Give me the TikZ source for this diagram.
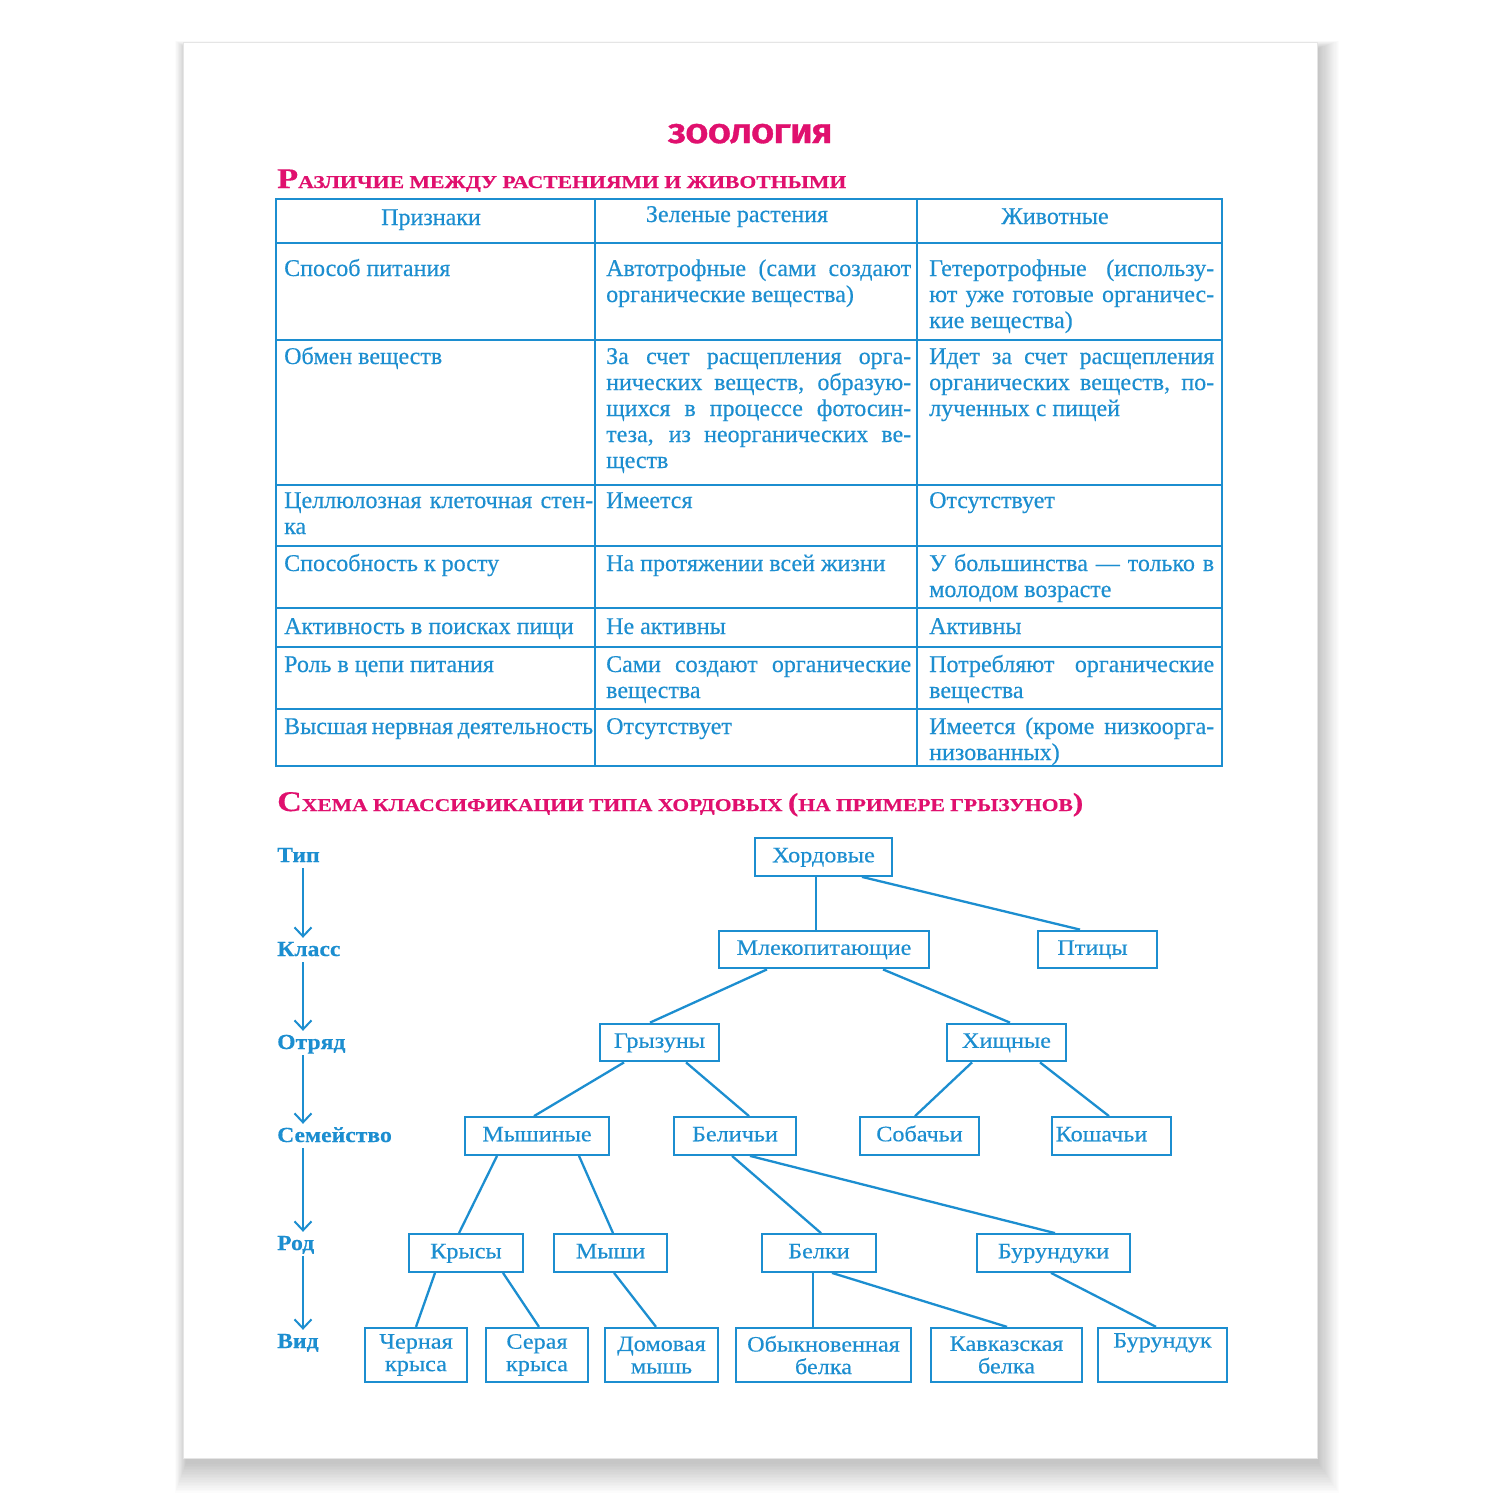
\documentclass[tikz,border=0pt]{standalone}
\usepackage{fontspec}
\usepackage{graphicx}
\setmainfont{Liberation Serif}
\newfontfamily\titlefont{Fira Sans}
\newfontfamily\widefont{Liberation Serif}[FakeStretch=1.1]
\usetikzlibrary{arrows.meta,calc}
\definecolor{bl}{RGB}{28,142,208}
\definecolor{mg}{RGB}{224,16,110}
\newcommand\tabfont{\fontsize{24}{26}\selectfont\addfontfeature{FakeBold=0.35}}
\newcommand\treefont{\widefont\fontsize{22}{23}\selectfont\addfontfeature{FakeBold=0.35}}
\newcommand\spfont{\widefont\fontsize{22}{22.5}\selectfont\addfontfeature{FakeBold=0.35}}
\newcommand\lvfont{\widefont\bfseries\fontsize{21.5}{23}\selectfont\addfontfeature{FakeBold=0.5}}
\newcommand\jA[1]{\makebox[309pt][s]{#1}}
\newcommand\jB[1]{\makebox[305pt][s]{#1}}
\newcommand\jC[1]{\makebox[285pt][s]{#1}}
\newcommand\pbx[1]{\parbox[t]{320pt}{#1}}
\begin{document}
\begin{tikzpicture}[x=1pt,y=-1pt,
  tline/.style={draw=bl,line width=2.4pt},
  cell/.style={anchor=base west,inner sep=0pt,text=bl,font=\tabfont},
  hcell/.style={anchor=base,inner sep=0pt,text=bl,font=\tabfont},
  tn/.style={draw=bl,line width=2.3pt,text=bl,font=\treefont,inner sep=0pt,
     text height=15pt,text depth=4.5pt,minimum height=37.5pt},
  sp/.style={draw=bl,line width=2.3pt,text=bl,font=\spfont,inner sep=0pt,
     align=center,minimum height=54pt},
  conn/.style={draw=bl,line width=2.3pt},
  lv/.style={anchor=base west,inner sep=0pt,text=bl,font=\lvfont,text height=15pt,text depth=5pt},
  lvarrow/.style={draw=bl,line width=2pt,-{Straight Barb[length=9pt,width=17pt,line width=2pt]},
     shorten <=1pt,shorten >=3pt}]
\useasboundingbox (0,0) rectangle (1500,1500);
\fill[white] (0,0) rectangle (1500,1500);
% shadow
\foreach \i in {0,...,18}{
  \fill[black,opacity=0.011] (183+3-\i*0.6,42+6-\i*0.4) rectangle (1317+2+\i*1.1,1458+6+\i*1.6);
}
\fill[white] (183,42) rectangle (1317,1458);
\draw[black!10,line width=0.8pt] (183,42) rectangle (1317,1458);

% titles
\node[anchor=base,inner sep=0pt,text=mg] (title) at (750,143)
  {\resizebox{164pt}{\height}{\titlefont\bfseries\fontsize{27}{27}\selectfont\addfontfeature{FakeBold=1.2}ЗООЛОГИЯ}};
\node[anchor=base west,inner sep=0pt,text=mg] (sub1) at (277,188)
  {\resizebox{569pt}{\height}{\bfseries\addfontfeature{FakeBold=0.4}\fontsize{28.5}{28}\selectfont Р\fontsize{18}{18}\selectfont АЗЛИЧИЕ МЕЖДУ РАСТЕНИЯМИ И ЖИВОТНЫМИ}};
\node[anchor=base west,inner sep=0pt,text=mg] (sub2) at (277,811)
  {\resizebox{806pt}{\height}{\bfseries\addfontfeature{FakeBold=0.4}\fontsize{28.5}{28}\selectfont С\fontsize{18}{18}\selectfont ХЕМА КЛАССИФИКАЦИИ ТИПА ХОРДОВЫХ \fontsize{26}{26}\selectfont(\fontsize{18}{18}\selectfont НА ПРИМЕРЕ ГРЫЗУНОВ\fontsize{26}{26}\selectfont)}};

% table grid
\draw[tline] (276,199) rectangle (1222,766);
\foreach \yy in {243,340,485,546,608,647,709}{\draw[tline] (276,\yy) -- (1222,\yy);}
\draw[tline] (595,199) -- (595,766);
\draw[tline] (917,199) -- (917,766);

% header
\node[hcell] (h1) at (431,225) {Признаки};
\node[hcell] (h2) at (737,222) {Зеленые растения};
\node[hcell] (h3) at (1055,224) {Животные};
% row 1
\node[cell] (r1a) at (284,276) {\pbx{Способ питания}};
\node[cell] (r1b) at (606,276) {\pbx{\jB{Автотрофные (сами создают}\\органические вещества)}};
\node[cell] (r1c) at (929,276) {\pbx{\jC{Гетеротрофные (использу-}\\\jC{ют уже готовые органичес-}\\кие вещества)}};
% row 2
\node[cell] (r2a) at (284,364) {\pbx{Обмен веществ}};
\node[cell] (r2b) at (606,364) {\pbx{\jB{За счет расщепления орга-}\\\jB{нических веществ, образую-}\\\jB{щихся в процессе фотосин-}\\\jB{теза, из неорганических ве-}\\ществ}};
\node[cell] (r2c) at (929,364) {\pbx{\jC{Идет за счет расщепления}\\\jC{органических веществ, по-}\\лученных с пищей}};
% row 3
\node[cell] (r3a) at (284,508) {\pbx{\jA{Целлюлозная клеточная стен-}\\ка}};
\node[cell] (r3b) at (606,508) {\pbx{Имеется}};
\node[cell] (r3c) at (929,508) {\pbx{Отсутствует}};
% row 4
\node[cell] (r4a) at (284,571) {\pbx{Способность к росту}};
\node[cell] (r4b) at (606,571) {\pbx{На протяжении всей жизни}};
\node[cell] (r4c) at (929,571) {\pbx{\jC{У большинства — только в}\\молодом возрасте}};
% row 5
\node[cell] (r5a) at (284,634) {\pbx{Активность в поисках пищи}};
\node[cell] (r5b) at (606,634) {\pbx{Не активны}};
\node[cell] (r5c) at (929,634) {\pbx{Активны}};
% row 6
\node[cell] (r6a) at (284,672) {\pbx{Роль в цепи питания}};
\node[cell] (r6b) at (606,672) {\pbx{\jB{Сами создают органические}\\вещества}};
\node[cell] (r6c) at (929,672) {\pbx{\jC{Потребляют органические}\\вещества}};
% row 7
\node[cell] (r7a) at (284,734) {\pbx{\jA{Высшая нервная деятельность}}};
\node[cell] (r7b) at (606,734) {\pbx{Отсутствует}};
\node[cell] (r7c) at (929,734) {\pbx{\jC{Имеется (кроме низкоорга-}\\низованных)}};

% level labels
\coordinate (ax) at (303,0);
\node[lv] (l1) at (277,862) {Тип};
\node[lv] (l2) at (277,956) {Класс};
\node[lv] (l3) at (277,1049) {Отряд};
\node[lv] (l4) at (277,1142) {Семейство};
\node[lv] (l5) at (277,1250) {Род};
\node[lv] (l6) at (277,1348) {Вид};
\draw[lvarrow] (l1.south -| ax) -- (l2.north -| ax);
\draw[lvarrow] (l2.south -| ax) -- (l3.north -| ax);
\draw[lvarrow] (l3.south -| ax) -- (l4.north -| ax);
\draw[lvarrow] (l4.south -| ax) -- (l5.north -| ax);
\draw[lvarrow] (l5.south -| ax) -- (l6.north -| ax);

% tree nodes
\node[tn,minimum width=137pt] (hord) at (823.5,857) {Хордовые};
\node[tn,minimum width=210pt] (mlek) at (824,949.5) {Млекопитающие};
\node[tn,minimum width=119pt] (ptic) at (1097.5,949.5) {Птицы\hspace*{10pt}};
\node[tn,minimum width=119pt] (gryz) at (659.5,1042.5) {Грызуны};
\node[tn,minimum width=119pt] (hish) at (1006.5,1042.5) {Хищные};
\node[tn,minimum width=144pt] (mysh) at (537,1136) {Мышиные};
\node[tn,minimum width=122pt] (bel) at (735,1136) {Беличьи};
\node[tn,minimum width=119pt] (sob) at (919.5,1136) {Собачьи};
\node[tn,minimum width=119pt] (kosh) at (1111.5,1136) {Кошачьи\hspace*{20pt}};
\node[tn,minimum width=114pt] (krys) at (466,1253) {Крысы};
\node[tn,minimum width=113pt] (myshi) at (610.5,1253) {Мыши};
\node[tn,minimum width=114pt] (belk) at (819,1253) {Белки};
\node[tn,minimum width=153pt] (burs) at (1053.5,1253) {Бурундуки};
\node[sp,minimum width=102pt] (cher) at (416,1355) {Черная\\крыса};
\node[sp,minimum width=102pt] (ser) at (537,1355) {Серая\\крыса};
\node[sp,minimum width=113pt] (dom) at (661.5,1355) {Домовая\\мышь};
\node[sp,minimum width=175pt] (obyk) at (823.5,1355) {Обыкновенная\\белка};
\node[sp,minimum width=151pt] (kavk) at (1006.5,1355) {Кавказская\\белка};
\node[sp,minimum width=129pt] (burk) at (1162.5,1355) {Бурундук\\\strut};

% connectors
\draw[conn] ([xshift=-7.5pt]hord.south) -- ([xshift=-8pt]mlek.north);
\draw[conn] ([xshift=38.5pt]hord.south) -- ([xshift=-17.5pt]ptic.north);
\draw[conn] ([xshift=-57pt]mlek.south) -- ([xshift=-9.5pt]gryz.north);
\draw[conn] ([xshift=59pt]mlek.south) -- ([xshift=3.5pt]hish.north);
\draw[conn] ([xshift=-35.5pt]gryz.south) -- ([xshift=-3pt]mysh.north);
\draw[conn] ([xshift=26.5pt]gryz.south) -- ([xshift=14pt]bel.north);
\draw[conn] ([xshift=-34.5pt]hish.south) -- ([xshift=-4.5pt]sob.north);
\draw[conn] ([xshift=33.5pt]hish.south) -- ([xshift=-2.5pt]kosh.north);
\draw[conn] ([xshift=-40pt]mysh.south) -- ([xshift=-7pt]krys.north);
\draw[conn] ([xshift=42pt]mysh.south) -- ([xshift=2.5pt]myshi.north);
\draw[conn] ([xshift=-3pt]bel.south) -- ([xshift=2pt]belk.north);
\draw[conn] ([xshift=15pt]bel.south) -- ([xshift=1.5pt]burs.north);
\draw[conn] ([xshift=-31pt]krys.south) -- (cher.north);
\draw[conn] ([xshift=37pt]krys.south) -- ([xshift=2pt]ser.north);
\draw[conn] ([xshift=3.5pt]myshi.south) -- ([xshift=-5.5pt]dom.north);
\draw[conn] ([xshift=-6pt]belk.south) -- ([xshift=-10.5pt]obyk.north);
\draw[conn] ([xshift=13pt]belk.south) -- ([xshift=0.5pt]kavk.north);
\draw[conn] ([xshift=-2.5pt]burs.south) -- ([xshift=-6.5pt]burk.north);
\end{tikzpicture}
\end{document}
